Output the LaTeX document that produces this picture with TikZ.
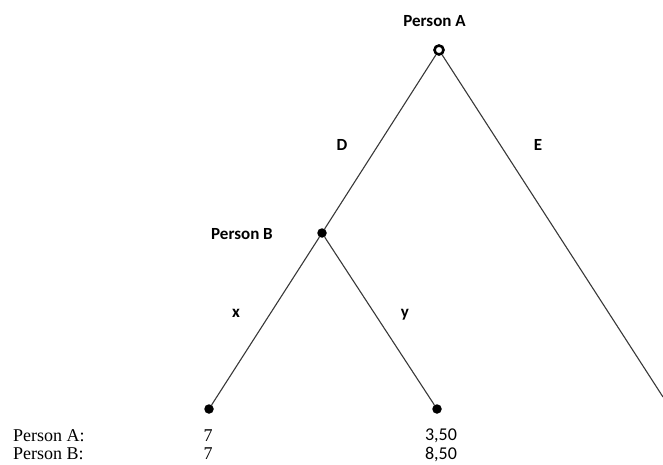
\documentclass[tikz,border=0pt]{standalone}
\usepackage{fontspec}
\setmainfont{Liberation Serif}
\newfontfamily\calib{Carlito}
\begin{document}
\begin{tikzpicture}[x=1pt,y=-1pt,
  edge/.style={draw=black!78,line width=1.1pt},
  leafdot/.style={circle,fill=black,inner sep=0pt,minimum size=9.5pt},
  rootdot/.style={circle,draw=black,fill=white,line width=2.6pt,inner sep=0pt,minimum size=9pt},
  lbl/.style={font=\calib\bfseries\fontsize{17}{18}\selectfont,inner sep=0pt},
  payA/.style={font=\fontsize{18}{20}\selectfont,inner sep=0pt,anchor=west},
  payN/.style={font=\calib\fontsize{18}{20}\selectfont,inner sep=0pt},
  payS/.style={font=\fontsize{18}{20}\selectfont,inner sep=0pt}]
\useasboundingbox (0,0) rectangle (663,465);
% nodes
\node[rootdot] (root) at (439,50) {};
\node[leafdot] (pb) at (322,233) {};
\node[leafdot] (l1) at (209,409) {};
\node[leafdot] (l2) at (437,409) {};
\coordinate (l3) at (663,397);
% edges
\draw[edge] (root) -- (pb);
\draw[edge] (root) -- (l3);
\draw[edge] (pb) -- (l1);
\draw[edge] (pb) -- (l2);
% labels
\node[lbl] (tA) at (434.5,21) {Person A};
\node[lbl] (tB) at (242,234) {Person B};
\node[lbl] (tD) at (342,145) {D};
\node[lbl] (tE) at (538,145) {E};
\node[lbl] (tx) at (236,313) {x};
\node[lbl] (ty) at (405,315) {y};
% payoffs
\node[payA] (pA) at (13,435.5) {Person A:};
\node[payA] (pB) at (13,454) {Person B:};
\node[payS] (a1) at (208,435.5) {7};
\node[payS] (b1) at (208,454) {7};
\node[payN] (a2) at (441,435.5) {3,50};
\node[payN] (b2) at (441,454) {8,50};
\end{tikzpicture}
\end{document}
